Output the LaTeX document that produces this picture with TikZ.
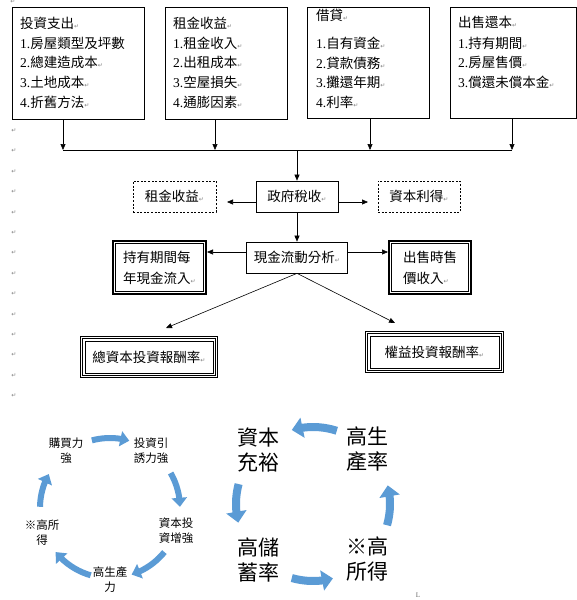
\documentclass[tikz,border=0pt]{standalone}
\usepackage{fontspec}
\setmainfont{Liberation Serif}
\newfontfamily\cjk{Noto Sans CJK TC}
\newfontfamily\dejavu{DejaVu Sans}
\usetikzlibrary{arrows.meta,bending}
\definecolor{cyc}{HTML}{5B9BD5}
\newcommand\mk{{\dejavu\fontsize{6}{6}\selectfont\color{black!50}↵}}
\newcommand\ci[2]{#1.{\cjk #2}}
\newcommand\inrect[3]{\draw[line width=#3] ([shift={(#2,#2)}]#1.north west) rectangle ([shift={(-#2,-#2)}]#1.south east);}
\begin{document}
\begin{tikzpicture}[x=1pt,y=-1pt,
  box/.style={draw, line width=0.7pt, inner sep=0pt, font=\cjk\fontsize{13.5}{21}\selectfont, align=left},
  dbox/.style={box, dash pattern=on 2pt off 1.6pt},
  thk/.style={box, line width=1.6pt},
  trip/.style={box, line width=0.6pt},
  txt/.style={inner sep=0pt, anchor=base west, font=\fontsize{13.5}{19.5}\selectfont},
  mkn/.style={inner sep=0pt},
  arr/.style={line width=0.6pt, -{Triangle[length=6pt,width=5pt]}},
  c1/.style={inner sep=0pt, align=center, font=\cjk\fontsize{11.5}{15}\selectfont},
  c2/.style={inner sep=0pt, align=center, font=\cjk\fontsize{21}{25}\selectfont},
  cyl/.style={draw=cyc, line width=6pt, -{Triangle[length=9pt,width=15pt]}},
  cyr/.style={draw=cyc, line width=8pt, -{Triangle[length=11pt,width=20pt]}}
]
\useasboundingbox (0,0) rectangle (577,600);

% ---- left margin paragraph marks
\node[mkn] (m0) at (13,2) {\mk};
\foreach \k in {0,...,13} \node[mkn] (mm\k) at (14,130.7+20.38*\k) {\mk};

% ---- top boxes
\node[box, minimum width=132, minimum height=112, anchor=north west] (B1) at (12,7) {};
\node[box, minimum width=122, minimum height=112, anchor=north west] (B2) at (165,7) {};
\node[box, minimum width=122, minimum height=111, anchor=north west] (B3) at (307,7) {};
\node[box, minimum width=126, minimum height=111, anchor=north west] (B4) at (450,7) {};

\node[txt] (t10) at (20,28) {\cjk 投資支出\mk};
\node[txt] (t11) at (20,48) {\ci{1}{房屋類型及坪數}};
\node[txt] (t12) at (20,67) {\ci{2}{總建造成本}\mk};
\node[txt] (t13) at (20,87) {\ci{3}{土地成本}\mk};
\node[txt] (t14) at (20,107) {\ci{4}{折舊方法}\mk};

\node[txt] (t20) at (173,28) {\cjk 租金收益\mk};
\node[txt] (t21) at (173,48) {\ci{1}{租金收入}\mk};
\node[txt] (t22) at (173,67) {\ci{2}{出租成本}\mk};
\node[txt] (t23) at (173,87) {\ci{3}{空屋損失}\mk};
\node[txt] (t24) at (173,107) {\ci{4}{通膨因素}\mk};

\node[txt] (t30) at (316,20) {\cjk 借貸\mk};
\node[txt] (t31) at (316,48) {\ci{1}{自有資金}\mk};
\node[txt] (t32) at (316,68) {\ci{2}{貸款債務}\mk};
\node[txt] (t33) at (316,87) {\ci{3}{攤還年期}\mk};
\node[txt] (t34) at (316,107) {\ci{4}{利率}\mk};

\node[txt] (t40) at (458,27) {\cjk 出售還本\mk};
\node[txt] (t41) at (458,48) {\ci{1}{持有期間}\mk};
\node[txt] (t42) at (458,67) {\ci{2}{房屋售價}\mk};
\node[txt] (t43) at (458,87) {\ci{3}{償還未償本金}\mk};

% ---- collector line
\coordinate (j1) at (63,150);
\coordinate (j2) at (215,150);
\coordinate (j3) at (370,150);
\coordinate (j4) at (512,150);
\coordinate (jm) at (297,150);
\draw[arr] (B1.south -| j1) -- (j1);
\draw[arr] (B2.south -| j2) -- (j2);
\draw[arr] (B3.south -| j3) -- (j3);
\draw[arr] (B4.south -| j4) -- (j4);
\draw[line width=0.6pt] (j1) -- (j4);

% ---- middle
\node[box, minimum width=82, minimum height=31] (gov) at (297,196.5) {政府稅收\mk};
\node[dbox, minimum width=83, minimum height=31] (rent) at (174.5,196.5) {租金收益\mk};
\node[dbox, minimum width=82, minimum height=31] (capg) at (419,196.5) {資本利得\mk};
\node[box, minimum width=101, minimum height=31] (cash) at (297,257.5) {現金流動分析\mk};

\draw[arr] (jm) -- (gov.north);
\coordinate (tl) at (227,202);
\coordinate (tr) at (368,202);
\draw[arr] (gov.west |- tl) -- (tl);
\draw[arr] (gov.east |- tr) -- (tr);
\draw[arr] (gov.south) -- (cash.north);

\node[thk, minimum width=93.4, minimum height=53.4] (hold) at (159.5,267.5) {持有期間每\\年現金流入\mk};
\inrect{hold}{3.4}{0.5pt}
\node[thk, minimum width=82.4, minimum height=53.4] (sell) at (430,267.5) {出售時售\\價收入\mk};
\inrect{sell}{3.4}{0.5pt}
\coordinate (yy) at (0,252);
\draw[arr] (cash.west |- yy) -- (hold.east |- yy);
\draw[arr] (cash.east |- yy) -- (sell.west |- yy);

\node[trip, minimum width=137.4, minimum height=41.4] (tot) at (149,357) {總資本投資報酬率\mk};
\inrect{tot}{2.6}{1.4pt}
\inrect{tot}{5}{0.6pt}
\node[trip, minimum width=138.4, minimum height=41.4] (eq) at (434.5,352) {權益投資報酬率\mk};
\inrect{eq}{2.6}{1.4pt}
\inrect{eq}{5}{0.6pt}
\coordinate (dl) at (166,328);
\coordinate (dr) at (395,323);
\draw[arr] (cash.south) -- (dl);
\draw[arr] (cash.south) -- (dr);

% ---- left cycle
\node[c1] (a1) at (66,450.5) {購買力\\強};
\node[c1] (a2) at (151,450.5) {投資引\\誘力強};
\node[c1] (a3) at (176,530.5) {資本投\\資增強};
\node[c1] (a4) at (110,580) {高生產\\力};
\node[c1] (a5) at (42,532.5) {※高所\\得};
\draw[cyl] (110,508) ++(-105:70) arc[start angle=-105, end angle=-74, radius=70];
\draw[cyl] (110,508) ++(-30:70) arc[start angle=-30, end angle=-1, radius=70];
\draw[cyl] (110,508) ++(39:70) arc[start angle=39, end angle=72, radius=70];
\draw[cyl] (110,508) ++(106:70) arc[start angle=106, end angle=141, radius=70];
\draw[cyl] (110,508) ++(181:70) arc[start angle=181, end angle=209, radius=70];

% ---- right cycle
\node[c2] (r1) at (258,449.5) {資本\\充裕};
\node[c2] (r2) at (367,449.5) {高生\\產率};
\node[c2] (r3) at (258,559.5) {高儲\\蓄率};
\node[c2] (r4) at (367,559.5) {※高\\所得};
\draw[cyr] (313,504) ++(-72:77) arc[start angle=-72, end angle=-106, radius=77];
\draw[cyr] (313,504) ++(-165:77) arc[start angle=-165, end angle=-194, radius=77];
\draw[cyr] (313,504) ++(-254:77) arc[start angle=-254, end angle=-285, radius=77];
\draw[cyr] (313,504) ++(-344:77) arc[start angle=-344, end angle=-374, radius=77];

\node[mkn] (endmk) at (418,595) {\fontsize{7}{7}\selectfont\color{black!60}L};
\end{tikzpicture}
\end{document}
